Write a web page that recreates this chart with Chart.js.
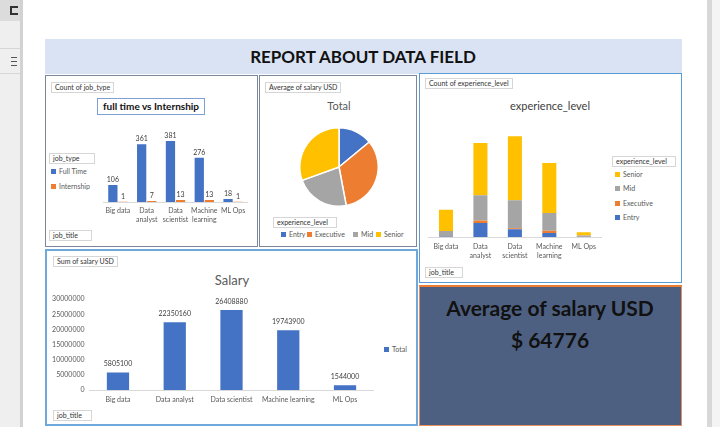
<!DOCTYPE html>
<html>
<head>
<meta charset="utf-8">
<script src="https://cdn.jsdelivr.net/npm/chart.js@4.4.1/dist/chart.umd.min.js"></script>
<style>
  body { margin: 0; background: #fff; font-family: Lato, "Open Sans", sans-serif; }
  #page { position: relative; width: 720px; height: 427px; overflow: hidden; background: #fff; }
  .box { position: absolute; box-sizing: border-box; }
  .panel { position: absolute; box-sizing: border-box; background: #fff; }
  .tag { position: absolute; box-sizing: border-box; height: 11px; font-size: 7px; line-height: 9px; color: #333;
         background: #fff; border: 1px solid #d6d6d6; padding: 0 3px; white-space: nowrap; }
  .txt { position: absolute; white-space: nowrap; transform: translate(-50%, -50%); }
  .leg { position: absolute; font-size: 7px; color: #595959; white-space: nowrap; line-height: 10px; }
  .leg i { display: inline-block; width: 5px; height: 5px; margin-right: 3px; }
  canvas { position: absolute; }
</style>
</head>
<body>
<div id="page">
  <!-- window chrome -->
  <div class="box" style="left:0;top:0;width:20px;height:427px;background:#efefef"></div>
  <div class="box" style="left:0;top:0;width:20px;height:21px;background:#dcdcdc"></div>
  <div class="box" style="left:10px;top:6px;width:8px;height:9px;border:2px solid #333;border-right:none"></div>
  <div class="box" style="left:0;top:48px;width:20px;height:1px;background:#d6d6d6"></div>
  <div class="box" style="left:0;top:73px;width:20px;height:1px;background:#d6d6d6"></div>
  <div class="box" style="left:11px;top:57px;width:6px;height:9px;border-top:1px solid #555;border-bottom:1px solid #555"></div>
  <div class="box" style="left:11px;top:61px;width:6px;height:1px;background:#555"></div>
  <div class="box" style="left:20px;top:0;width:3px;height:427px;background:#d2d2d2"></div>
  <div class="box" style="left:707px;top:0;width:5px;height:427px;background:#d8d8d8"></div>
  <div class="box" style="left:712px;top:0;width:8px;height:427px;background:#f4f4f4"></div>

  <!-- header -->
  <div class="box" style="left:45px;top:39px;width:637px;height:35px;background:#dae3f3"></div>
  <div class="txt" style="left:363px;top:56px;font-size:17px;font-weight:bold;color:#111">REPORT ABOUT DATA FIELD</div>

  <!-- panel A -->
  <div class="panel" style="left:45px;top:75px;width:213px;height:172px;border:1px solid #7b879b"></div>
  <div class="tag" style="left:51px;top:82px">Count of job_type</div>
  <div class="box" style="left:97px;top:98px;width:108px;height:17px;border:1px solid #7f9fd6;background:#fff"></div>
  <div class="txt" style="left:151px;top:106px;font-size:10px;font-weight:bold;color:#111">full time vs Internship</div>
  <div class="tag" style="left:49px;top:153px;width:46px">job_type</div>
  <div id="legA"></div>
  <div class="tag" style="left:49px;top:230px;width:43px">job_title</div>
  <canvas id="chartA" width="155" height="118" style="left:100px;top:110px"></canvas>

  <!-- panel B -->
  <div class="panel" style="left:259px;top:75px;width:158px;height:172px;border:1px solid #7b879b"></div>
  <div class="tag" style="left:265px;top:82px">Average of salary USD</div>
  <div class="txt" style="left:339px;top:105px;font-size:11px;color:#595959">Total</div>
  <canvas id="chartB" width="100" height="100" style="left:289px;top:117px"></canvas>
  <div class="tag" style="left:273px;top:217px;width:64px">experience_level</div>
  <div id="legB"></div>

  <!-- panel C -->
  <div class="panel" style="left:419px;top:73px;width:263px;height:210px;border:1px solid #5b9bd5"></div>
  <div class="tag" style="left:425px;top:78px">Count of experience_level</div>
  <div class="txt" style="left:550px;top:105px;font-size:11px;color:#404040">experience_level</div>
  <canvas id="chartC" width="185" height="145" style="left:424px;top:120px"></canvas>
  <div class="tag" style="left:612px;top:156px;width:64px">experience_level</div>
  <div id="legC"></div>
  <div class="tag" style="left:425px;top:267px;width:38px">job_title</div>

  <!-- panel D -->
  <div class="panel" style="left:45px;top:249px;width:373px;height:177px;border:2px solid #6fa8dc"></div>
  <div class="tag" style="left:53px;top:256px">Sum of salary USD</div>
  <div class="txt" style="left:232px;top:280px;font-size:13px;color:#595959">Salary</div>
  <canvas id="chartD" width="330" height="125" style="left:48px;top:290px"></canvas>
  <div id="legD"></div>
  <div class="tag" style="left:53px;top:410px;width:39px">job_title</div>

  <!-- panel E -->
  <div class="panel" style="left:419px;top:285px;width:263px;height:141px;background:#4e6081;border:1px solid #e9905a;border-top:2px solid #ed7d31"></div>
  <div class="txt" style="left:550px;top:307px;font-size:21px;font-weight:bold;color:#111">Average of salary USD</div>
  <div class="txt" id="avgText" style="left:550px;top:339px;font-size:21px;font-weight:bold;color:#111"></div>
</div>

<script>
// ---- data ----
const jobTitles = ['Big data', ['Data', 'analyst'], ['Data', 'scientist'], ['Machine', 'learning'], 'ML Ops'];
const salaryTitles = ['Big data', 'Data analyst', 'Data scientist', 'Machine learning', 'ML Ops'];
const jobTypes = ['Full Time', 'Internship'];
const fullTimeCounts = [106, 361, 381, 276, 18];
const internshipCounts = [1, 7, 13, 13, 1];

const levels = ['Entry', 'Executive', 'Mid', 'Senior'];
const avgSalaryByLevel = [45000, 106000, 72000, 98000];

const entryCounts = [2, 55, 30, 16, 1];
const executiveCounts = [1, 10, 4, 8, 1];
const midCounts = [20, 98, 110, 70, 4];
const seniorCounts = [84, 205, 250, 195, 13];

const salarySums = [5805100, 22350160, 26408880, 19743900, 1544000];
const salaryMax = 30000000;
const salaryStep = 5000000;
const avgSalary = 64776;

const BLUE = '#4472c4', ORANGE = '#ed7d31', GRAY = '#a5a5a5', GOLD = '#ffc000';
const levelColors = [BLUE, ORANGE, GRAY, GOLD];
const TICK = '#595959';
const FONT = 'Lato, "Open Sans", sans-serif';

Chart.defaults.font.family = FONT;
Chart.defaults.animation = false;

// value labels above each bar
const valueLabels = {
  id: 'valueLabels',
  afterDatasetsDraw(chart, args, opts) {
    if (!opts.show) return;
    const ctx = chart.ctx;
    ctx.save();
    ctx.font = opts.size + 'px ' + FONT;
    ctx.fillStyle = '#404040';
    ctx.textAlign = 'center';
    ctx.textBaseline = 'bottom';
    chart.data.datasets.forEach((ds, i) => {
      chart.getDatasetMeta(i).data.forEach((el, j) => {
        ctx.fillText(ds.data[j], el.x, el.y - opts.offset);
      });
    });
    ctx.restore();
  },
};

function fixH(h) { return (s) => { s.height = h; }; }

function xAxis(h, pad) {
  return {
    grid: { display: false, drawTicks: false },
    border: { color: '#d9d9d9' },
    ticks: { color: TICK, font: { size: 7 }, maxRotation: 0, autoSkip: false, padding: pad },
    afterFit: fixH(h),
  };
}

function legend(id, names, colors, items) {
  document.getElementById(id).innerHTML = names
    .map((n, i) => '<div class="leg" style="left:' + items[i][0] + 'px;top:' + items[i][1] + 'px"><i style="background:' +
      colors[i] + '"></i>' + n + '</div>')
    .join('');
}

// A: full time vs internship
new Chart(document.getElementById('chartA'), {
  type: 'bar',
  plugins: [valueLabels],
  data: {
    labels: jobTitles,
    datasets: [
      { label: jobTypes[0], data: fullTimeCounts, backgroundColor: BLUE, categoryPercentage: 0.7, barPercentage: 0.92 },
      { label: jobTypes[1], data: internshipCounts, backgroundColor: ORANGE, categoryPercentage: 0.7, barPercentage: 0.92 },
    ],
  },
  options: {
    responsive: false,
    layout: { padding: { left: 3.5, right: 7.5, top: 12, bottom: 4 } },
    plugins: { legend: { display: false }, tooltip: { enabled: false }, valueLabels: { show: true, size: 7, offset: 2 } },
    scales: {
      x: xAxis(22, 5),
      y: { display: false, min: 0, max: 500 },
    },
  },
});
legend('legA', jobTypes, [BLUE, ORANGE], [[51, 166], [51, 181]]);

// B: average salary by experience level
new Chart(document.getElementById('chartB'), {
  type: 'pie',
  data: {
    labels: levels,
    datasets: [{ data: avgSalaryByLevel, backgroundColor: levelColors, borderColor: '#fff', borderWidth: 1.5 }],
  },
  options: {
    responsive: false,
    layout: { padding: 10 },
    plugins: { legend: { display: false }, tooltip: { enabled: false } },
  },
});
legend('legB', levels, levelColors, [[281, 229], [307, 229], [353, 229], [376, 229]]);

// C: experience level stacked by job title
new Chart(document.getElementById('chartC'), {
  type: 'bar',
  data: {
    labels: jobTitles,
    datasets: [
      { label: 'Entry', data: entryCounts, backgroundColor: BLUE },
      { label: 'Executive', data: executiveCounts, backgroundColor: ORANGE },
      { label: 'Mid', data: midCounts, backgroundColor: GRAY },
      { label: 'Senior', data: seniorCounts, backgroundColor: GOLD },
    ].map((d) => Object.assign(d, { categoryPercentage: 0.8, barPercentage: 0.51 })),
  },
  options: {
    responsive: false,
    layout: { padding: { left: 4.75, right: 8, top: 14.7, bottom: 4 } },
    plugins: { legend: { display: false }, tooltip: { enabled: false } },
    scales: {
      x: Object.assign(xAxis(24, 6), { stacked: true }),
      y: { display: false, stacked: true, min: 0, max: 400 },
    },
  },
});
legend('legC', ['Senior', 'Mid', 'Executive', 'Entry'], [GOLD, GRAY, ORANGE, BLUE],
  [[615, 169], [615, 183], [615, 198], [615, 212]]);

// D: salary sum by job title
new Chart(document.getElementById('chartD'), {
  type: 'bar',
  plugins: [valueLabels],
  data: {
    labels: salaryTitles,
    datasets: [{ label: 'Total', data: salarySums, backgroundColor: BLUE, categoryPercentage: 0.8, barPercentage: 0.49 }],
  },
  options: {
    responsive: false,
    layout: { padding: { left: 1.6, right: 4.6, top: 8, bottom: 5 } },
    plugins: { legend: { display: false }, tooltip: { enabled: false }, valueLabels: { show: true, size: 7, offset: 5 } },
    scales: {
      x: xAxis(20, 6),
      y: {
        min: 0,
        max: salaryMax,
        grid: { display: false, drawTicks: false },
        border: { display: false },
        ticks: { stepSize: salaryStep, color: TICK, font: { size: 7 }, padding: 5, callback: (v) => String(v) },
        afterFit: (s) => { s.width = 40; },
      },
    },
  },
});
legend('legD', ['Total'], [BLUE], [[384, 344]]);

document.getElementById('avgText').textContent = '$ ' + avgSalary;
</script>
</body>
</html>
